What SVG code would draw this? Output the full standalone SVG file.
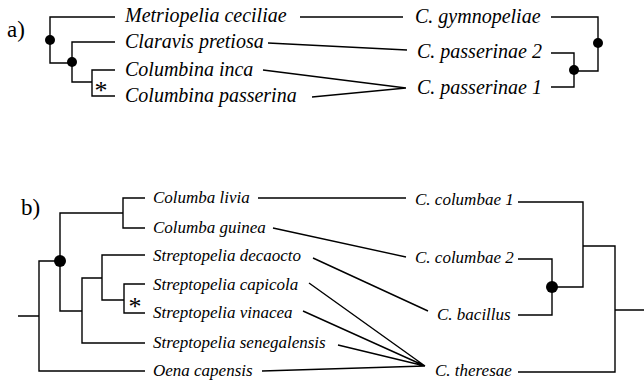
<svg xmlns="http://www.w3.org/2000/svg" width="644" height="381" viewBox="0 0 644 381">
<style>
.ln{fill:none;stroke:#000;stroke-width:1.4}
.ta{font-family:"Liberation Serif","Times New Roman",serif;font-style:italic;font-size:20px;fill:#000}
.tb{font-family:"Liberation Serif","Times New Roman",serif;font-style:italic;font-size:17px;fill:#000}
.lab{font-family:"Liberation Serif","Times New Roman",serif;font-size:23px;fill:#000}
.ast{font-family:"Liberation Serif","Times New Roman",serif;font-size:26px;fill:#000;text-anchor:middle}
.dot{fill:#000}
</style>
<rect width="644" height="381" fill="#fff"/>
<text class="lab" x="7" y="37">a)</text>
<text class="lab" x="21" y="215">b)</text>
<g id="host-tree-a">
<path class="ln" d="M115,17 H50 V63 H72 M115,42 H72 V82 H92 M115,70 H92 V96 H115"/>
<circle class="dot" cx="50" cy="40" r="5"/>
<circle class="dot" cx="72" cy="62" r="5"/>
<text class="ast" x="101" y="99">*</text>
</g>
<g id="metriopelia"><text class="ta" x="125" y="22">Metriopelia ceciliae</text></g>
<g id="claravis"><text class="ta" x="125" y="48">Claravis pretiosa</text></g>
<g id="col-inca"><text class="ta" x="125" y="76">Columbina inca</text></g>
<g id="col-passerina"><text class="ta" x="125" y="102">Columbina passerina</text></g>
<g id="c-gymnopeliae"><text class="ta" x="415" y="23">C. gymnopeliae</text></g>
<g id="c-passerinae2"><text class="ta" x="417" y="58">C. passerinae 2</text></g>
<g id="c-passerinae1"><text class="ta" x="417" y="94">C. passerinae 1</text></g>
<g id="louse-tree-a">
<path class="ln" d="M551,17 H598 V71 H574 M551,53 H574 V87 H551"/>
<circle class="dot" cx="598" cy="43" r="5"/>
<circle class="dot" cx="574" cy="70" r="5"/>
</g>
<g id="host-tree-b">
<path class="ln" d="M18,316 H39 M145,371 H39 V261 H60 M145,198 H123 V228 H145 M123,213 H60 V311 H82 M145,343 H82 V278 H102 M145,255 H102 V300 H124 M145,284 H124 V313 H145"/>
<circle class="dot" cx="60" cy="261" r="6"/>
<text class="ast" x="135" y="315">*</text>
</g>
<g id="columba-livia"><text class="tb" x="153" y="203">Columba livia</text></g>
<g id="columba-guinea"><text class="tb" x="153" y="233">Columba guinea</text></g>
<g id="strep-decaocto"><text class="tb" x="153" y="261">Streptopelia decaocto</text></g>
<g id="strep-capicola"><text class="tb" x="153" y="290">Streptopelia capicola</text></g>
<g id="strep-vinacea"><text class="tb" x="153" y="318">Streptopelia vinacea</text></g>
<g id="strep-senegalensis"><text class="tb" x="153" y="348">Streptopelia senegalensis</text></g>
<g id="oena"><text class="tb" x="153" y="376">Oena capensis</text></g>
<g id="c-columbae1"><text class="tb" x="415" y="205">C. columbae 1</text></g>
<g id="c-columbae2"><text class="tb" x="415" y="263">C. columbae 2</text></g>
<g id="c-bacillus"><text class="tb" x="437" y="320">C. bacillus</text></g>
<g id="c-theresae"><text class="tb" x="435" y="376">C. theresae</text></g>
<g id="louse-tree-b">
<path class="ln" d="M518,202 H583 V287 H552 M518,259 H552 V315 H518 M583,246 H615 V372 H518 M615,310 H644"/>
<circle class="dot" cx="552" cy="287" r="6"/>
</g>
<g id="connectors">
<path class="ln" d="M300,17 L403,17 M268,43 L407,50 M263,70 L406,88 M312,97 L406,88"/>
<path class="ln" d="M258,198 L406,198 M273,228 L406,257 M313,258 L428,311 M309,283 L425,366 M303,311 L425,366 M338,345 L425,366 M262,371 L425,366"/>
</g>
</svg>
